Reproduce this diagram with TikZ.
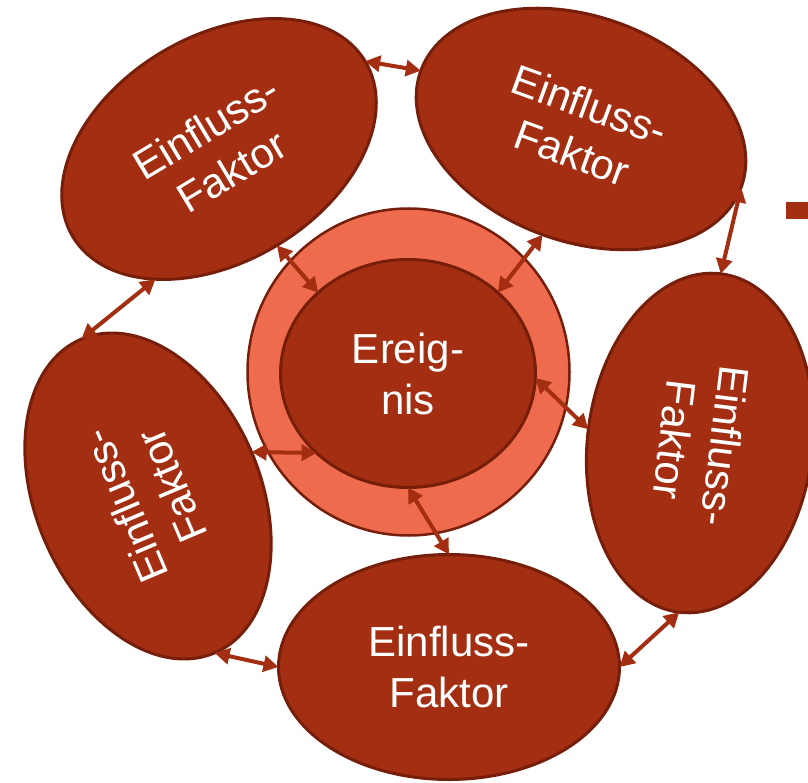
\documentclass[tikz,border=0pt]{standalone}
\usepackage{fontspec}
\newfontfamily\labelfont{Liberation Sans}[Ligatures=CommonOff]
\usetikzlibrary{shapes.geometric,arrows.meta}

\definecolor{rust}{RGB}{163,46,17}
\definecolor{rustedge}{RGB}{118,30,10}
\definecolor{coral}{RGB}{238,108,77}

\tikzset{
  labeltext/.style={text=white, align=center,
    font=\labelfont\fontsize{42}{51}\selectfont},
  factor/.style={ellipse, draw=rustedge, line width=3pt, fill=rust,
    minimum width=341pt, minimum height=225pt, inner sep=0pt, outer sep=0pt,
    labeltext},
  link/.style={draw=rust, line width=4pt,
    {Triangle[length=15pt,width=16pt]}-{Triangle[length=15pt,width=16pt]}},
}

\begin{document}
\begin{tikzpicture}[x=1pt,y=-1pt]
\useasboundingbox (0,0) rectangle (808,783);
\clip (0,0) rectangle (808,783);

% the five influencing factors around the event
\node[factor, rotate=31]  (tl) at (219,149) {Einfluss-\\Faktor};
\node[factor, rotate=-20] (tr) at (581,129) {Einfluss-\\Faktor};
\node[factor, rotate=-97] (rt) at (700,443) {Einfluss-\\Faktor};
\node[factor]             (bt) at (449,667) {Einfluss-\\Faktor};
\node[factor, rotate=113] (lf) at (148,496) {Einfluss-\\Faktor};

% the event in the middle, with its ring
\node[ellipse, draw=rustedge, fill=coral, line width=2.5pt,
      minimum width=322pt, minimum height=327pt, inner sep=0pt, outer sep=0pt]
      (ring) at (408.5,372) {};
\node[ellipse, draw=rustedge, fill=rust, line width=3pt,
      minimum width=255pt, minimum height=228pt, inner sep=0pt, outer sep=0pt,
      labeltext] (ev) at (408,373.5) {Ereig-\\nis};

% mutual influences between neighbouring factors
\draw[link] (tl.0)   -- (tr.180);
\draw[link] (tr.0)   -- (rt.180);
\draw[link] (rt.0)   -- (bt.0);
\draw[link] (bt.180) -- (lf.180);
\draw[link] (lf.0)   -- (tl.213);

% influences between each factor and the event
\draw[link] (tl.-90) -- (ev.138);
\draw[link] (tr.-90) -- (ev.42);
\draw[link] (rt.-90) -- (ev.-2);
\draw[link] (bt.90)  -- (ev.-90);
\draw[link] (lf.-90) -- (ev.221);

% edge of a neighbouring element
\fill[rust] (786,202) rectangle (810,219);
\end{tikzpicture}
\end{document}
